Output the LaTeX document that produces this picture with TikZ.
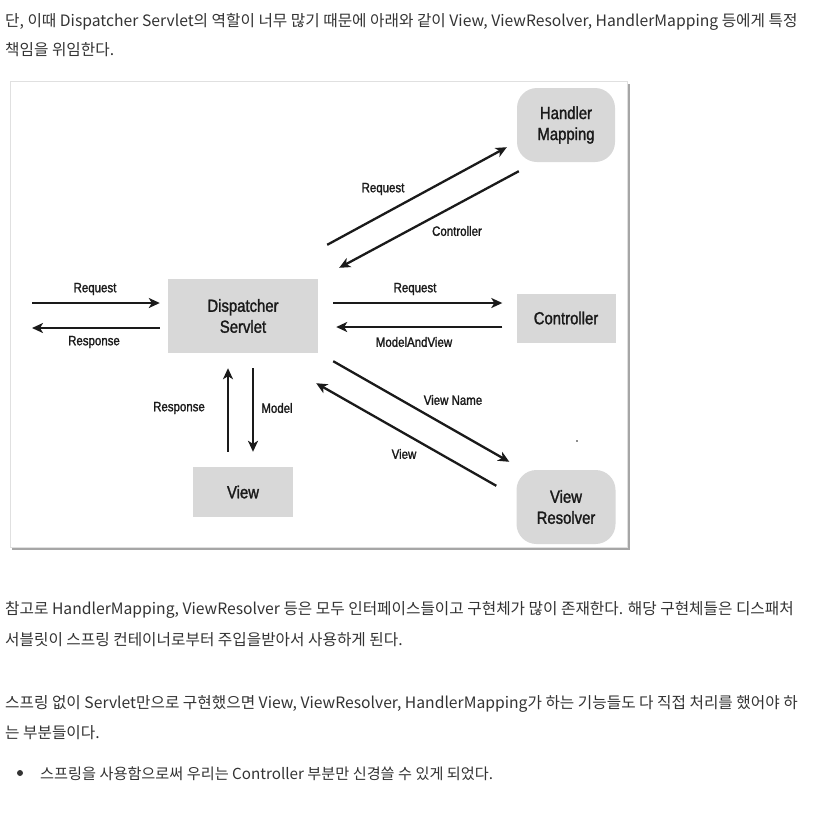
\documentclass[tikz,border=0pt]{standalone}
\usepackage{fontspec}
\usepackage{tikz}
\usetikzlibrary{arrows.meta}
\newfontfamily\krfont{Noto Sans CJK KR}
\newfontfamily\diagfont[FakeStretch=0.85,FakeBold=1.5]{Liberation Sans}
\definecolor{boxgray}{RGB}{216,216,216}
\definecolor{krgray}{RGB}{51,51,51}
\definecolor{arrowblack}{RGB}{26,26,26}
\tikzset{
  box/.style={fill=boxgray, inner sep=0, align=center, text=arrowblack, font=\diagfont\fontsize{17.5}{21}\selectfont},
  rbox/.style={box, rounded corners=20pt},
  lbl/.style={inner sep=0, text=arrowblack, font=\diagfont\fontsize{13.5}{16}\selectfont},
  arr/.style={draw=arrowblack, line width=2.3pt, -{Stealth[length=11pt,width=10pt,inset=3pt]}},
  krline/.style={anchor=base west, inner sep=0, text=krgray, font=\krfont\fontsize{15.7}{18}\selectfont}
}
\begin{document}
\begin{tikzpicture}[x=1pt,y=-1pt]
\useasboundingbox (0,0) rectangle (816,815);
% text above the figure
\node[krline] (p1a) at (5,26) {단, 이때 Dispatcher Servlet의 역할이 너무 많기 때문에 아래와 같이 View, ViewResolver, HandlerMapping 등에게 특정};
\node[krline] (p1b) at (5,55) {책임을 위임한다.};
% frame with shadow
\draw[gray!70, line width=2pt] (628.5,84) -- (628.5,548.5) -- (12,548.5);
\draw[black!12, fill=white, line width=0.8pt] (10.5,81.5) rectangle (627,547);
% boxes
\node[rbox, minimum width=98, minimum height=74] (hm) at (566,125) {Handler\\Mapping};
\node[box, minimum width=150, minimum height=74] (ds) at (243,316) {Dispatcher\\Servlet};
\node[box, minimum width=99, minimum height=49] (ctrl) at (566,318) {Controller};
\node[box, minimum width=100, minimum height=50] (view) at (243,492) {View};
\node[rbox, minimum width=99, minimum height=74] (vr) at (566,507) {View\\Resolver};
% free ends on the left
\coordinate (cin) at (32,303);
\coordinate (cout) at (32,328);
% arrows
\draw[arr] (cin) -- ([xshift=-8pt,yshift=13pt]ds.west);
\draw[arr] ([xshift=-8pt,yshift=-12pt]ds.west) -- (cout);
\draw[arr] ([xshift=15pt,yshift=13pt]ds.east) -- ([xshift=-14pt,yshift=15pt]ctrl.west);
\draw[arr] ([xshift=-14pt,yshift=-9pt]ctrl.west) -- ([xshift=18pt,yshift=-11pt]ds.east);
\draw[arr] ([xshift=9pt,yshift=34pt]ds.north east) -- ([xshift=-10pt,yshift=15pt]hm.south west);
\draw[arr] ([xshift=2pt,yshift=-9pt]hm.south west) -- ([xshift=21pt,yshift=11pt]ds.north east);
\draw[arr] ([xshift=15pt,yshift=-8pt]ds.south east) -- ([xshift=-7pt,yshift=8pt]vr.north west);
\draw[arr] ([xshift=-20pt,yshift=-16pt]vr.north west) -- ([xshift=-2pt,yshift=-30pt]ds.south east);
\draw[arr] ([xshift=-15pt,yshift=15pt]view.north) -- ([xshift=-15pt,yshift=-15pt]ds.south);
\draw[arr] ([xshift=10pt,yshift=-15pt]ds.south) -- ([xshift=10pt,yshift=15pt]view.north);
% arrow labels
\node[lbl] (lreq1) at (95,289) {Request};
\node[lbl] (lres1) at (94,342) {Response};
\node[lbl] (lreq2) at (415,289) {Request};
\node[lbl] (lmav) at (414,342) {ModelAndView};
\node[lbl] (lres2) at (179,408) {Response};
\node[lbl] (lmod) at (277,408) {Model};
\node[lbl] (lreq3) at (383,189) {Request};
\node[lbl] (lctrl) at (457,231) {Controller};
\node[lbl] (lvn) at (453,400) {View Name};
\node[lbl] (lview) at (404,454) {View};
\fill[arrowblack] (577,441) circle (0.8);
% text below the figure
\node[krline] (p2a) at (5,614) {참고로 HandlerMapping, ViewResolver 등은 모두 인터페이스들이고 구현체가 많이 존재한다. 해당 구현체들은 디스패처};
\node[krline] (p2b) at (5,645) {서블릿이 스프링 컨테이너로부터 주입을받아서 사용하게 된다.};
\node[krline] (p3a) at (5,708) {스프링 없이 Servlet만으로 구현했으면 View, ViewResolver, HandlerMapping가 하는 기능들도 다 직접 처리를 했어야 하};
\node[krline] (p3b) at (5,738) {는 부분들이다.};
\fill[krgray] (20,773) circle (3);
\node[krline, font=\krfont\fontsize{15.2}{18}\selectfont] (p4) at (40,779) {스프링을 사용함으로써 우리는 Controller 부분만 신경쓸 수 있게 되었다.};
\end{tikzpicture}
\end{document}
